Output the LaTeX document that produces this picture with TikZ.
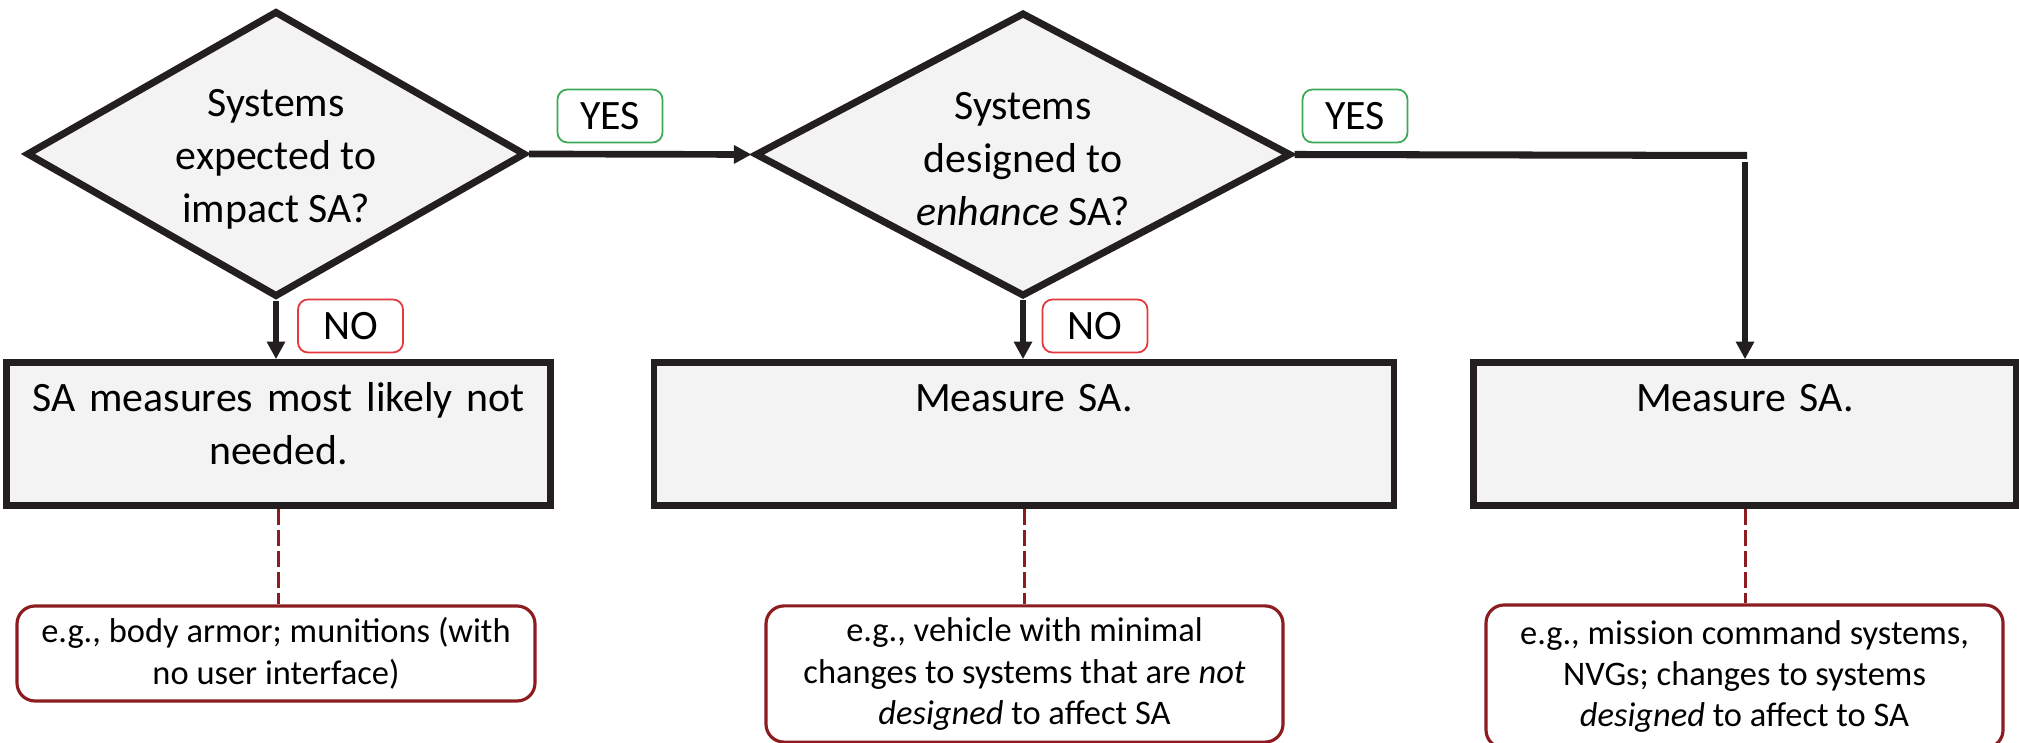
\documentclass[tikz,border=0pt]{standalone}
\usepackage{fontspec}
\setmainfont{Carlito}
\usepackage[HTML]{xcolor}
\usetikzlibrary{positioning, arrows.meta, shapes.geometric}

\definecolor{ink}{HTML}{231F20}
\definecolor{panel}{HTML}{F2F3F2}
\definecolor{yesgreen}{HTML}{3BAA57}
\definecolor{nored}{HTML}{E5383D}
\definecolor{notered}{HTML}{8C1C1F}

\begin{document}
\begin{tikzpicture}[
  decision/.style={diamond, draw=ink, fill=panel, line width=2pt, inner sep=0pt, align=center, font=\fontsize{11.9}{15.1}\selectfont},
  outcome/.style={rectangle, draw=ink, fill=panel, line width=1.9pt, inner ysep=0.1cm, text width=5.2cm, align=center, text height=0.39cm, text depth=0.84cm, font=\fontsize{11.9}{15}\selectfont},
  answer/.style={rectangle, rounded corners=0.1cm, fill=white, line width=0.5pt, minimum width=1.05cm, minimum height=0.53cm, font=\fontsize{11.9}{14}\selectfont},
  example/.style={rectangle, rounded corners=0.18cm, draw=notered, fill=white, line width=0.9pt, align=center, font=\fontsize{9.8}{11.8}\selectfont},
  arr/.style={draw=ink, line width=1.9pt, -{Triangle[length=5pt, width=5pt]}},
  exline/.style={draw=notered, line width=0.85pt, dash pattern=on 4.5pt off 1.5pt}]
\useasboundingbox (0,0) rectangle (20.19,-7.43);

% questions
\node[decision, aspect=1.75, minimum width=4.99cm, minimum height=2.86cm] (d1) at (2.76,-1.54) {\strut Systems\\ expected to\\ impact SA?};
\node[decision, aspect=1.89, minimum width=5.36cm, minimum height=2.84cm] (d2) at (10.23,-1.545) {\strut Systems\\ designed to\\ \emph{enhance} SA?};

% outcomes
\node[outcome, minimum width=5.37cm] (m1) at (2.785,-4.34) {SA measures most likely not\\ needed.};
\node[outcome, minimum width=7.40cm] (m2) at (10.24,-4.34) {Measure SA.};
\node[outcome, minimum width=5.38cm] (m3) at (17.45,-4.34) {Measure SA.};

% answers
\node[answer, draw=yesgreen] (yes1) at (6.10,-1.16) {YES};
\node[answer, draw=yesgreen] (yes2) at (13.55,-1.16) {YES};
\node[answer, draw=nored] (no1) at (3.505,-3.26) {NO};
\node[answer, draw=nored] (no2) at (10.95,-3.26) {NO};

% examples
\node[example, minimum width=5.18cm, minimum height=0.95cm] (e1) at (2.76,-6.535) {e.g., body armor; munitions (with\\ no user interface)};
\node[example, minimum width=5.17cm, minimum height=1.36cm] (e2) at (10.245,-6.74) {e.g., vehicle with minimal\\ changes to systems that are \emph{not}\\ \emph{designed} to affect SA};
\node[example, minimum width=5.17cm, minimum height=1.43cm] (e3) at (17.445,-6.765) {e.g., mission command systems,\\ NVGs; changes to systems\\ \emph{designed} to affect to SA};

% edges
\coordinate (c1) at (17.47,-1.555);
\coordinate (c2) at (17.45,-1.62);
\draw[arr] (d1.east) -- (d2.west);
\draw[arr] (d1.south) -- (d1.south |- m1.north);
\draw[arr] (d2.south) -- (d2.south |- m2.north);
\draw[draw=ink, line width=2pt] (d2.east) -- (c1);
\draw[arr, line width=1.7pt] (c2) -- (m3.north);
\foreach \m/\e in {m1/e1, m2/e2, m3/e3}{\draw[exline] (\m.south) -- (\m.south |- \e.north);}
\end{tikzpicture}
\end{document}
